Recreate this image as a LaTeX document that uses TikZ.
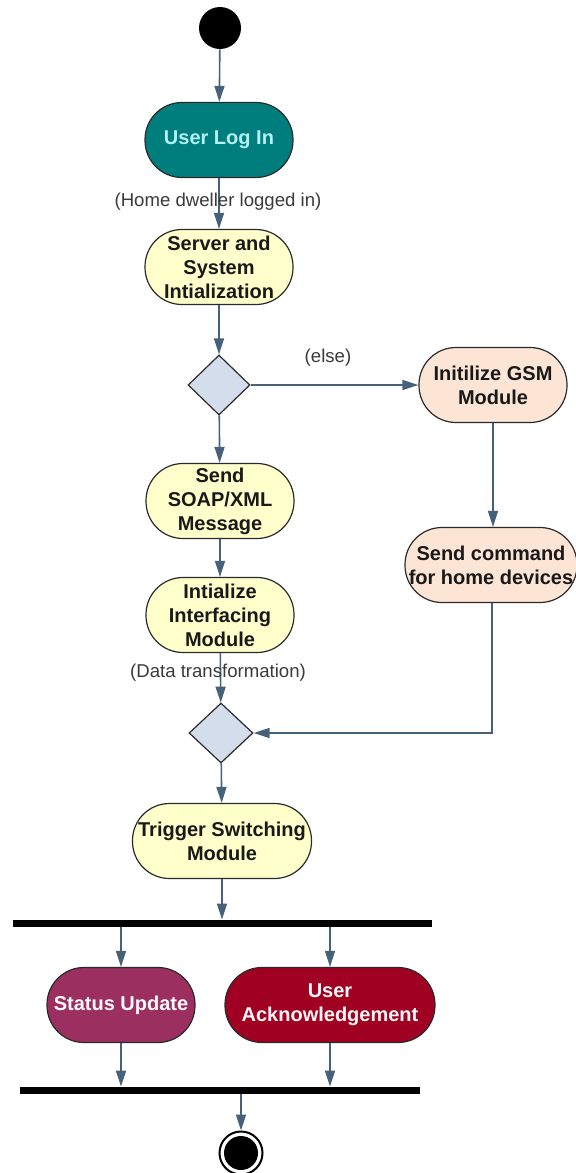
\documentclass[tikz,border=0pt]{standalone}
\usepackage{fontspec}
\setmainfont{Liberation Sans}
\usetikzlibrary{shapes.geometric,arrows.meta}
\definecolor{arrowc}{HTML}{46627A}
\definecolor{tealf}{HTML}{007E7E}
\definecolor{tealt}{HTML}{B4F2F2}
\definecolor{yelf}{HTML}{FFFFCC}
\definecolor{peachf}{HTML}{FDE5D6}
\definecolor{plumf}{HTML}{9A2F60}
\definecolor{redf}{HTML}{A00022}
\definecolor{diaf}{HTML}{D3DDEB}
\definecolor{edgec}{HTML}{2A2A2A}
\definecolor{labc}{HTML}{3A3A3A}
\tikzset{
  act/.style={draw=edgec, line width=0.6pt, rectangle, rounded corners=18.5pt,
    minimum width=74pt, minimum height=37.5pt, inner sep=1pt, align=center,
    font=\bfseries\fontsize{10}{12}\selectfont, text=black!90},
  yel/.style={act, fill=yelf},
  peach/.style={act, fill=peachf},
  dec/.style={diamond, draw=edgec, line width=0.6pt, fill=diaf, inner sep=0pt,
    minimum width=31pt, minimum height=30pt},
  flow/.style={draw=arrowc, line width=0.8pt, -{Triangle[length=8pt,width=5pt]}},
  lab/.style={font=\fontsize{9.3}{11}\selectfont, text=labc},
  bar/.style={fill=black, draw=none, inner sep=0pt}
}
\begin{document}
\begin{tikzpicture}[x=0.5pt,y=-0.5pt]
\useasboundingbox (0,0) rectangle (576,1173);
\node[circle, fill=black, minimum size=21pt, inner sep=0pt] (start) at (220,28) {};
\node[act, fill=tealf, text=tealt] (login) at (219,140) {User Log In};
\node[yel] (server) at (219,267) {Server and\\System\\Intialization};
\node[dec] (d1) at (219,385) {};
\node[peach] (gsm) at (493,385) {Initilize GSM\\Module};
\node[yel] (soap) at (220,501) {Send\\SOAP/XML\\Message};
\node[peach, minimum width=86pt] (cmd) at (491,565) {Send command\\for home devices};
\node[yel] (iface) at (220,615) {Intialize\\Interfacing\\Module};
\node[dec, minimum width=32pt] (d2) at (221,733) {};
\node[yel, minimum width=89.5pt] (trig) at (222,841) {Trigger Switching\\Module};
\node[bar, minimum width=209.5pt, minimum height=3.5pt] (fork) at (222.5,923.5) {};
\node[act, fill=plumf, text=white!90!pink] (status) at (121,1005) {Status Update};
\node[act, fill=redf, text=white!88!pink, minimum width=105pt] (ack) at (330,1005) {User\\Acknowledgement};
\node[bar, minimum width=200pt, minimum height=3.5pt] (join) at (220,1090.5) {};
\node[circle, draw=black, line width=1pt, fill=white, minimum size=21.5pt, inner sep=0pt] (end) at (241,1153) {};
\node[circle, fill=black, minimum size=17pt, inner sep=0pt] (endin) at (241,1153) {};
\coordinate (j1) at (241,1094);
\coordinate (bend) at (492,733);

\draw[flow] (start) -- (login);
\draw[flow] (login) -- (server);
\node[lab] (l1) at (218,202) {(Home dweller logged in)};
\draw[flow] (server) -- (d1);
\draw[flow] (d1) -- (soap);
\draw[flow] (d1.east) -- (gsm.west);
\node[lab] (l2) at (328,358) {(else)};
\draw[flow] (soap) -- (iface);
\draw[flow] (iface) -- (d2);
\node[lab] (l3) at (218,673) {(Data transformation)};
\draw[flow] (gsm.south) -- (gsm.south |- cmd.north);
\draw[flow] (bend |- cmd.south) -- (bend) -- (d2.east);
\draw[flow] (d2) -- (trig);
\draw[flow] (trig) -- (trig |- fork.north);
\draw[flow] (status |- fork.south) -- (status);
\draw[flow] (ack |- fork.south) -- (ack);
\draw[flow] (status) -- (status |- join.north);
\draw[flow] (ack) -- (ack |- join.north);
\draw[flow] (j1) -- (end);
\end{tikzpicture}
\end{document}
